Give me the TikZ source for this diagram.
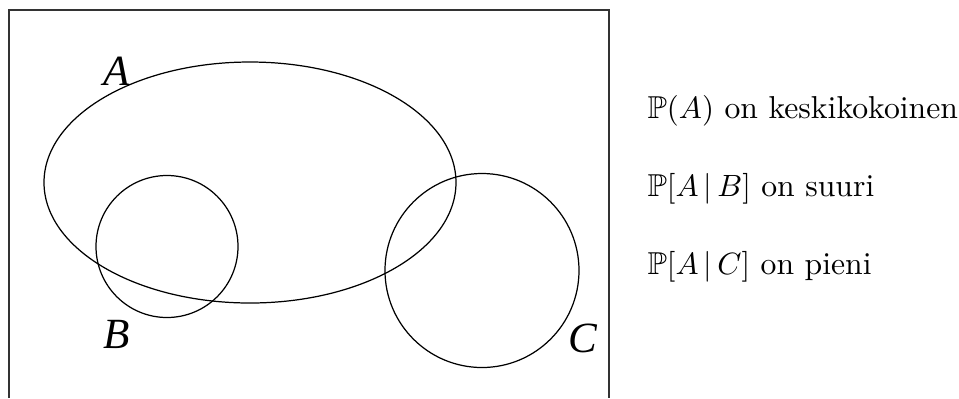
\documentclass[tikz,border=0pt]{standalone}
\usepackage{amssymb}
\usepackage{fontspec}
\newfontfamily\labfont{Liberation Serif}
\tikzset{
  setlabel/.style={font=\labfont\itshape\fontsize{14}{16}\selectfont, inner sep=0pt},
  statement/.style={anchor=west, inner sep=0pt, font=\fontsize{10.3}{12}\selectfont},
  frameline/.style={line width=0.45pt, draw=black!80},
  setline/.style={line width=0.4pt}
}
\begin{document}
\begin{tikzpicture}[x=0.325pt,y=-0.325pt]
\useasboundingbox (0,0) rectangle (959,398);
\draw[frameline] (9,398) -- (9,10) -- (609,10) -- (609,398);
\draw[setline] (250,182.5) ellipse [x radius=206, y radius=120.5];
\draw[setline] (167,246.5) circle [radius=71];
\draw[setline] (482,270.5) circle [radius=97];
\node[setlabel] (la) at (117,71) {A};
\node[setlabel] (lb) at (117,334) {B};
\node[setlabel] (lc) at (583,338) {C};
\node[statement] (s1) at (647,111) {$\mathbb{P}(A)$ on keskikokoinen};
\node[statement] (s2) at (647,189) {$\mathbb{P}[A\,|\,B]$ on suuri};
\node[statement] (s3) at (647,267) {$\mathbb{P}[A\,|\,C]$ on pieni};
\end{tikzpicture}
\end{document}
